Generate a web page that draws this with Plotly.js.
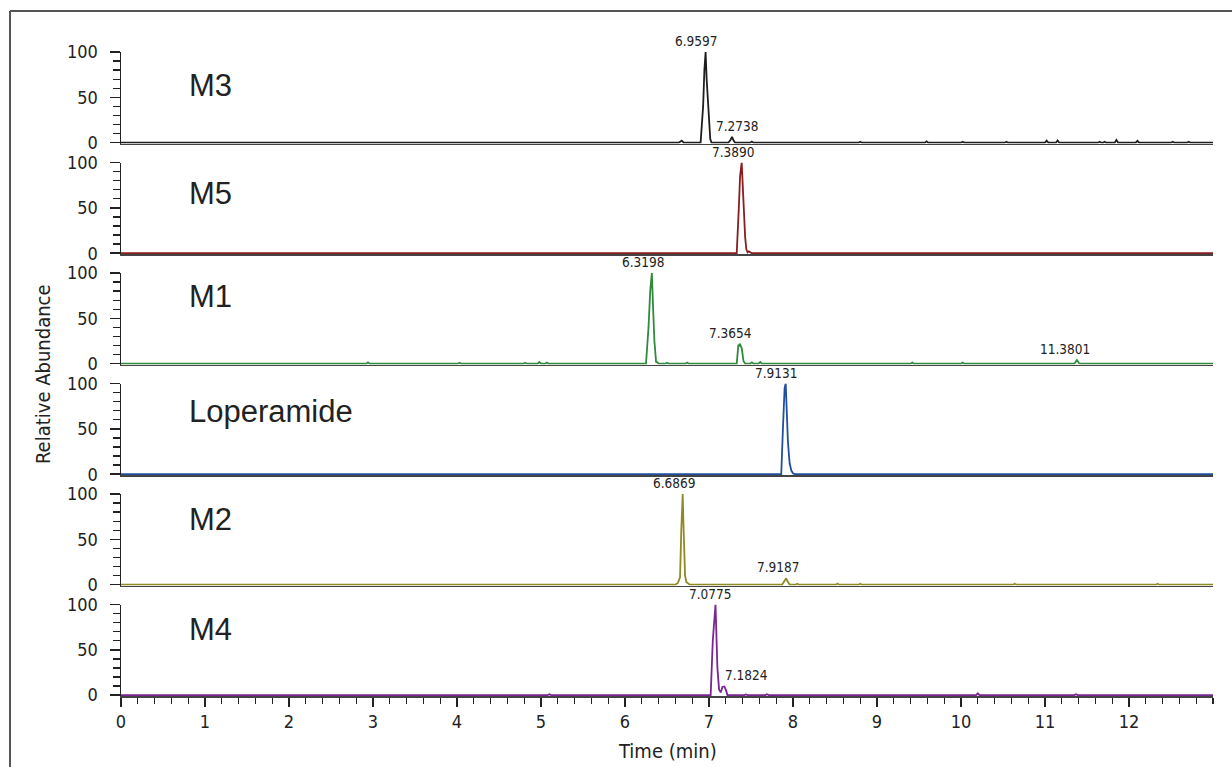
<!DOCTYPE html>
<html>
<head>
<meta charset="utf-8">
<script src="https://cdn.plot.ly/plotly-3.0.1.min.js"></script>
<style>
html,body{margin:0;padding:0;background:#fff;}
#chart{width:1232px;height:767px;}
</style>
</head>
<body>
<div id="chart"></div>
<script>
// ---------- DATA ----------
const panelNames = ["M3", "M5", "M1", "Loperamide", "M2", "M4"];

const m3Time  = [0, 6.64, 6.675, 6.70, 6.90, 6.93, 6.945, 6.9597, 6.972, 6.985, 7.00, 7.015, 7.03, 7.23, 7.255, 7.2738, 7.29, 7.31, 7.49, 7.51, 7.53, 8.78, 8.80, 8.82, 9.57, 9.59, 9.61, 10.00, 10.02, 10.04, 10.52, 10.54, 10.56, 11.00, 11.02, 11.04, 11.13, 11.15, 11.17, 11.63, 11.65, 11.67, 11.69, 11.71, 11.73, 11.83, 11.85, 11.87, 12.08, 12.10, 12.12, 12.50, 12.52, 12.54, 12.69, 12.71, 12.73, 13.0];
const m3Abund = [0, 0, 2.2, 0, 0, 40, 80, 100, 70, 45, 25, 4, 0, 0, 3, 6.5, 3, 0, 0, 1.2, 0, 0, 1, 0, 0, 1.5, 0, 0, 1, 0, 0, 1, 0, 0, 2.2, 0, 0, 2.5, 0, 0, 1, 0, 0, 1, 0, 0, 3, 0, 0, 2, 0, 0, 1, 0, 0, 1, 0, 0];

const m5Time  = [0, 7.33, 7.355, 7.37, 7.389, 7.40, 7.415, 7.43, 7.445, 7.46, 7.475, 7.49, 7.51, 13.0];
const m5Abund = [0, 0, 50, 85, 100, 78, 45, 18, 4, 1, 2, 1.5, 0, 0];

const m1Time  = [0, 2.92, 2.94, 2.96, 4.01, 4.03, 4.05, 4.79, 4.81, 4.83, 4.96, 4.98, 5.00, 5.05, 5.07, 5.09, 6.25, 6.28, 6.30, 6.3198, 6.335, 6.35, 6.37, 6.385, 6.40, 6.48, 6.50, 6.52, 6.72, 6.74, 6.76, 7.33, 7.35, 7.36, 7.3654, 7.375, 7.39, 7.41, 7.43, 7.49, 7.51, 7.53, 7.59, 7.61, 7.63, 9.40, 9.42, 9.44, 10.00, 10.02, 10.04, 11.35, 11.3801, 11.41, 13.0];
const m1Abund = [0, 0, 1.5, 0, 0, 1, 0, 0, 1, 0, 0, 1.8, 0, 0, 1.2, 0, 0, 40, 80, 100, 60, 25, 2, 1.5, 0, 0, 1, 0, 0, 1.2, 0, 0, 21, 19, 22, 20, 17, 3, 0, 0, 1.5, 0, 0, 1.8, 0, 0, 1.2, 0, 0, 1.2, 0, 0, 4, 0, 0];

const lopTime  = [0, 7.86, 7.88, 7.90, 7.9131, 7.925, 7.94, 7.96, 7.98, 8.00, 8.02, 13.0];
const lopAbund = [0, 0, 50, 95, 100, 75, 35, 12, 4, 1, 0, 0];

const m2Time  = [0, 6.60, 6.63, 6.655, 6.67, 6.6869, 6.695, 6.705, 6.715, 6.73, 6.75, 6.77, 7.87, 7.895, 7.9187, 7.94, 7.96, 8.03, 8.05, 8.07, 8.51, 8.53, 8.55, 8.78, 8.80, 8.82, 10.62, 10.64, 10.66, 12.32, 12.34, 12.36, 13.0];
const m2Abund = [0, 0, 2, 8, 60, 100, 70, 45, 10, 3, 1.5, 0, 0, 4, 7, 3, 0, 0, 1, 0, 0, 1.2, 0, 0, 1, 0, 0, 1, 0, 0, 1, 0, 0];

const m4Time  = [0, 5.08, 5.10, 5.12, 7.02, 7.045, 7.0775, 7.09, 7.10, 7.12, 7.14, 7.16, 7.1824, 7.20, 7.22, 7.42, 7.44, 7.46, 7.67, 7.69, 7.71, 10.18, 10.20, 10.22, 11.35, 11.37, 11.39, 13.0];
const m4Abund = [0, 0, 1, 0, 0, 60, 100, 55, 30, 6, 3, 9, 9.5, 6, 0, 0, 0.8, 0, 0, 1, 0, 0, 2, 0, 0, 1, 0, 0];

// Peak labels (retention times) and their heights for each panel
const peakPanel  = [0, 0, 1, 2, 2, 2, 3, 4, 4, 5, 5];
const peakTime   = [6.9597, 7.2738, 7.3890, 6.3198, 7.3654, 11.3801, 7.9131, 6.6869, 7.9187, 7.0775, 7.1824];
const peakHeight = [100, 6.5, 100, 100, 22, 4, 100, 100, 7, 100, 9.5];
const peakText   = ["6.9597", "7.2738", "7.3890", "6.3198", "7.3654", "11.3801", "7.9131", "6.6869", "7.9187", "7.0775", "7.1824"];

const xTickVals = [0, 1, 2, 3, 4, 5, 6, 7, 8, 9, 10, 11, 12];
const yTickVals = [0, 50, 100];

// ---------- STYLE ----------
const series = [
  {t: m3Time,  a: m3Abund,  color: "#1e1e1e"},
  {t: m5Time,  a: m5Abund,  color: "#8b1c1f"},
  {t: m1Time,  a: m1Abund,  color: "#2f8a3c"},
  {t: lopTime, a: lopAbund, color: "#1f4f9e"},
  {t: m2Time,  a: m2Abund,  color: "#8e8a24"},
  {t: m4Time,  a: m4Abund,  color: "#7a2592"}
];
const NARROW = "'Liberation Sans Narrow', 'Arial Narrow', 'DejaVu Sans Condensed', sans-serif";
const WIDE = "'Liberation Sans', Arial, sans-serif";
const labelOffsetPx = [33.5, 30.5, 23.5, 27.5, 25, 25];
const peakLabelShift = [-10, 5, -9, -9, -9, -12, -10, -9, -8, -6, 22];

const W = 1232, H = 767;
const mL = 121, mR = 19, mT = 52, mB = 71;
const plotH = H - mT - mB;
const plotW = W - mL - mR;
const panelH = 91.6, step = 110.5;

const data = [];
const layout = {
  width: W, height: H,
  margin: {l: mL, r: mR, t: mT, b: mB},
  paper_bgcolor: "#fff", plot_bgcolor: "#fff",
  showlegend: false,
  annotations: [], shapes: []
};

series.forEach((s, i) => {
  const n = i + 1;
  const xa = "x" + (n === 1 ? "" : n), ya = "y" + (n === 1 ? "" : n);
  data.push({
    type: "scatter", mode: "lines", x: s.t, y: s.a,
    xaxis: xa, yaxis: ya, cliponaxis: false,
    line: {color: s.color, width: 1.8}, hoverinfo: "skip"
  });
  const topPx = i * step, botPx = topPx + panelH;
  const isBottom = i === series.length - 1;
  layout["xaxis" + (n === 1 ? "" : n)] = {
    domain: [0, 1], range: [0, 13], anchor: ya,
    showgrid: false, zeroline: false,
    showline: true, linecolor: "#444", linewidth: 1.5, layer: "below traces",
    ticks: isBottom ? "outside" : "", ticklen: 9, tickwidth: 1.5, tickcolor: "#222",
    tickvals: xTickVals, showticklabels: isBottom,
    tickfont: {family: NARROW, size: 18, color: "#222"},
    minor: isBottom ? {dtick: 0.2, tick0: 0, ticks: "outside", ticklen: 6, tickwidth: 1.3, tickcolor: "#222"} : undefined,
    fixedrange: true
  };
  layout["yaxis" + (n === 1 ? "" : n)] = {
    domain: [1 - botPx / plotH, 1 - topPx / plotH], range: [-1, 100], anchor: xa,
    showgrid: false, zeroline: false,
    showline: true, linecolor: "#222", linewidth: 1.5,
    ticks: "outside", ticklen: 10, tickwidth: 1.5, tickcolor: "#222",
    tickvals: yTickVals, ticklabelstandoff: 8,
    tickfont: {family: NARROW, size: 18, color: "#222"},
    minor: {tickvals: [10, 20, 30, 40, 60, 70, 80, 90], ticks: "outside", ticklen: 7, tickwidth: 1.3, tickcolor: "#222"},
    fixedrange: true
  };
  layout.annotations.push({
    xref: "paper", yref: ya + " domain",
    x: (187 - mL) / plotW, y: 1 - labelOffsetPx[i] / panelH,
    xanchor: "left", yanchor: "middle", showarrow: false,
    text: panelNames[i], font: {family: WIDE, size: 31, color: "#222"}
  });
});

peakTime.forEach((t, k) => {
  const n = peakPanel[k] + 1;
  layout.annotations.push({
    xref: "x" + (n === 1 ? "" : n), yref: "y" + (n === 1 ? "" : n),
    x: t, y: peakHeight[k], xanchor: "center", yanchor: "bottom",
    xshift: peakLabelShift[k], yshift: 1, showarrow: false,
    text: peakText[k], font: {family: NARROW, size: 13.5, color: "#222"}
  });
});

// axis titles
layout.annotations.push({
  xref: "paper", yref: "paper", x: 0.5, y: -55 / plotH,
  xanchor: "center", yanchor: "middle", showarrow: false,
  text: "Time (min)", font: {family: NARROW, size: 20, color: "#222"}
});
layout.annotations.push({
  xref: "paper", yref: "paper", x: (43 - mL) / plotW, y: 0.5,
  xanchor: "center", yanchor: "middle", textangle: -90, showarrow: false,
  text: "Relative Abundance", font: {family: NARROW, size: 20, color: "#222"}
});

// frame around the figure (top and left edges visible)
const fx = (10 - mL) / plotW, fy = (H - mB - 11) / plotH;
layout.shapes.push({type: "line", xref: "paper", yref: "paper", x0: fx, x1: 1.2, y0: fy, y1: fy, line: {color: "#555", width: 2}});
layout.shapes.push({type: "line", xref: "paper", yref: "paper", x0: fx, x1: fx, y0: fy, y1: -0.2, line: {color: "#555", width: 2}});

Plotly.newPlot("chart", data, layout, {displayModeBar: false, staticPlot: true});
</script>
</body>
</html>
